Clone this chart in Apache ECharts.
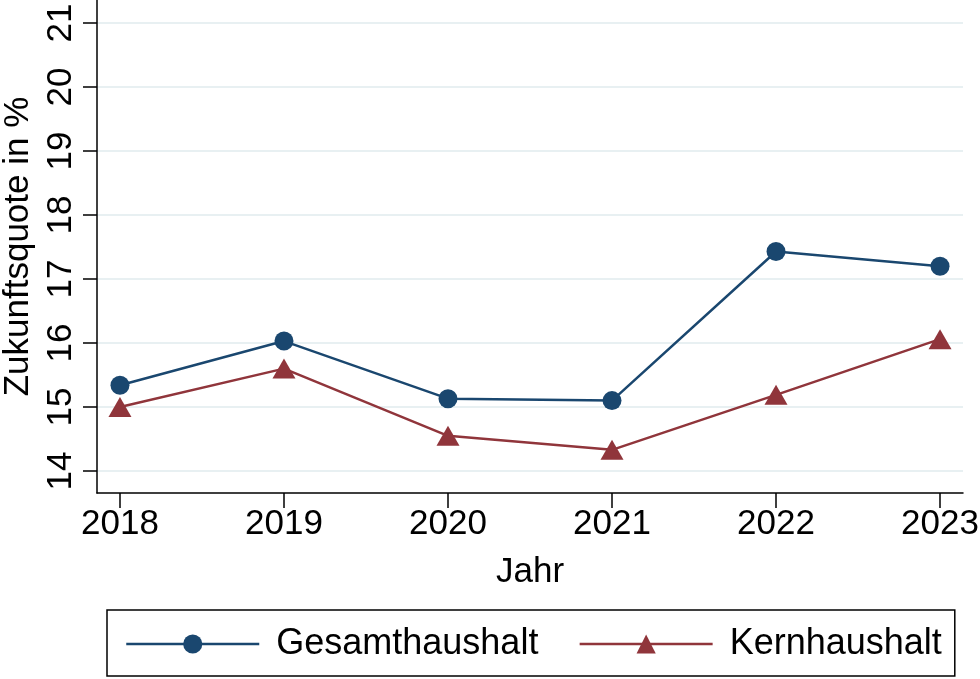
<!DOCTYPE html>
<html><head><meta charset="utf-8">
<script src="https://cdn.jsdelivr.net/npm/echarts@6/dist/echarts.min.js"></script>
<style>html,body{margin:0;padding:0;background:#fff}#c{width:980px;height:679px}</style>
</head><body><div id="c"></div>
<script>
const years = [2018, 2019, 2020, 2021, 2022, 2023];
const gesamt = [15.34, 16.03, 15.13, 15.10, 17.43, 17.20];
const kern = [15.00, 15.60, 14.55, 14.33, 15.19, 16.06];
const yTicks = [14, 15, 16, 17, 18, 19, 20, 21];
const xTicks = [2018, 2019, 2020, 2021, 2022, 2023];

const FONT = 'Liberation Sans, Arial, sans-serif';
const chart = echarts.init(document.getElementById('c'), null, {renderer: 'canvas'});
chart.setOption({
  animation: false,
  backgroundColor: '#ffffff',
  grid: {left: 97, right: 17, top: 0, bottom: 186, containLabel: false, outerBoundsMode: 'none'},
  xAxis: {
    type: 'value', min: 2017.86, max: 2023.14,
    name: 'Jahr', nameLocation: 'middle', nameGap: 62,
    nameTextStyle: {fontFamily: FONT, fontSize: 35, color: '#000'},
    axisLine: {show: true, lineStyle: {color: '#000', width: 1.5}},
    axisTick: {show: true, length: 15, lineStyle: {color: '#000', width: 1.5}, customValues: xTicks},
    axisLabel: {fontFamily: FONT, fontSize: 35, color: '#000', margin: 14, customValues: xTicks, formatter: v => String(v)},
    splitLine: {show: false}
  },
  yAxis: {
    type: 'value', min: 13.656, max: 21.36,
    name: 'Zukunftsquote in %', nameLocation: 'middle', nameGap: 61, nameRotate: 90,
    nameTextStyle: {fontFamily: FONT, fontSize: 35, color: '#000'},
    axisLine: {show: true, lineStyle: {color: '#000', width: 1.5}},
    axisTick: {show: true, length: 14, lineStyle: {color: '#000', width: 1.5}, customValues: yTicks},
    axisLabel: {fontFamily: FONT, fontSize: 35, color: '#000', margin: 18, rotate: 90, customValues: yTicks, formatter: v => String(v)},
    splitLine: {show: true, lineStyle: {color: '#e8f0f2', width: 2}}
  },
  legend: {
    left: 107, top: 610, width: 848,
    orient: 'horizontal',
    padding: [16, 13, 14, 18],
    borderColor: '#000', borderWidth: 1.5,
    itemWidth: 133, itemHeight: 24, itemGap: 40,
    lineStyle: {width: 2.5},
    textStyle: {fontFamily: FONT, fontSize: 36, color: '#000', padding: [0, 0, 0, 12]},
    data: ['Gesamthaushalt', 'Kernhaushalt']
  },
  series: [
    {
      name: 'Gesamthaushalt', type: 'line',
      data: years.map((y, i) => [y, gesamt[i]]),
      symbol: 'circle', symbolSize: 19,
      lineStyle: {color: '#1a476f', width: 2.5},
      itemStyle: {color: '#1a476f'}
    },
    {
      name: 'Kernhaushalt', type: 'line',
      data: years.map((y, i) => [y, kern[i]]),
      symbol: 'triangle', symbolSize: [23, 20],
      lineStyle: {color: '#90353b', width: 2.5},
      itemStyle: {color: '#90353b'}
    }
  ]
});
</script></body></html>
